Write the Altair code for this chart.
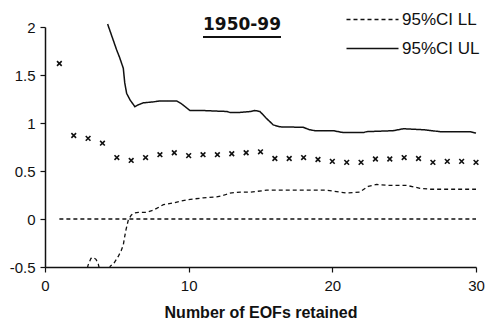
import altair as alt
import pandas as pd

# Marker series: one value per number of EOFs retained
eofs = list(range(1, 31))
stat = [1.62, 0.87, 0.84, 0.79, 0.64, 0.61, 0.64, 0.67, 0.69, 0.66,
        0.67, 0.67, 0.68, 0.69, 0.70, 0.63, 0.63, 0.64, 0.62, 0.60,
        0.59, 0.59, 0.625, 0.625, 0.64, 0.63, 0.59, 0.60, 0.60, 0.59]

# Lower confidence limit (dips below the axis floor around 3-4.5)
ll_x = [2.85, 3.0, 3.2, 3.36, 3.55, 3.71, 3.85, 4.2, 4.45, 4.55, 4.8, 5.1,
        5.3, 5.45, 5.55, 5.64, 5.8, 6.0, 6.15, 6.5, 7.08, 7.5, 7.77, 8.24,
        9.0, 9.86, 11.0, 11.95, 12.5, 12.87, 13.6, 14.3, 15.43, 17.0, 19.6,
        20.53, 21.0, 21.9, 22.5, 23.08, 24.0, 25.17, 26.1, 26.8, 28.0, 30.0]
ll_y = [-0.58, -0.48, -0.41, -0.40, -0.42, -0.47, -0.56, -0.62, -0.53, -0.49,
        -0.46, -0.39, -0.33, -0.27, -0.18, -0.11, -0.01, 0.04, 0.06, 0.07,
        0.07, 0.09, 0.11, 0.15, 0.17, 0.20, 0.22, 0.23, 0.25, 0.27, 0.28,
        0.28, 0.30, 0.30, 0.30, 0.28, 0.27, 0.28, 0.34, 0.36, 0.35, 0.35,
        0.32, 0.31, 0.31, 0.31]

# Upper confidence limit
ul_x = [4.36, 4.99, 5.2, 5.45, 5.55, 5.68, 5.92, 6.26, 6.5, 6.84, 7.54, 8.0,
        9.16, 9.5, 10.09, 11.0, 12.64, 12.87, 13.57, 14.3, 14.61, 14.96,
        15.4, 15.89, 16.35, 17.98, 18.4, 18.79, 20.06, 20.76, 22.15, 22.39,
        24.24, 24.94, 26.33, 27.49, 29.58, 30.0]
ul_y = [2.03, 1.76, 1.68, 1.57, 1.42, 1.31, 1.24, 1.17, 1.19, 1.21, 1.22, 1.23,
        1.23, 1.20, 1.13, 1.13, 1.12, 1.11, 1.11, 1.12, 1.13, 1.12,
        1.05, 0.98, 0.96, 0.955, 0.93, 0.92, 0.92, 0.90, 0.90, 0.91,
        0.92, 0.94, 0.93, 0.91, 0.91, 0.895]

# Zero reference line
zero_x = [1, 30]
zero_y = [0, 0]

series_names = ["95%CI LL", "95%CI UL"]
period_label = "1950-99"
x_ticks = [0, 10, 20, 30]
y_ticks = [-0.5, 0, 0.5, 1, 1.5, 2]

ink = "#111111"
font = "Liberation Sans"

marks_df = pd.DataFrame({"n": eofs, "v": stat})
ll_df = pd.DataFrame({"n": ll_x, "v": ll_y, "series": series_names[0]})
ul_df = pd.DataFrame({"n": ul_x, "v": ul_y, "series": series_names[1]})
zero_df = pd.DataFrame({"n": zero_x, "v": zero_y})

x_scale = alt.Scale(domain=[0, 30], nice=False, zero=False)
y_scale = alt.Scale(domain=[-0.5, 2], nice=False, zero=False)
dash_scale = alt.Scale(domain=series_names, range=[[4, 3], [1, 0]])

x_axis = alt.Axis(values=x_ticks, title="Number of EOFs retained", grid=False,
                  domainColor=ink, domainWidth=1.5, tickColor=ink, tickSize=5,
                  tickWidth=1.2, labelFont=font, labelFontSize=15, labelColor=ink,
                  labelPadding=6, labelFlush=False, titleFont=font,
                  titleFontSize=16, titleFontWeight="bold", titleColor=ink,
                  titlePadding=11)
y_axis = alt.Axis(values=y_ticks, title=None, grid=False,
                  domainColor=ink, domainWidth=1.5, tickColor=ink, tickSize=5,
                  tickWidth=1.2, labelFont=font, labelFontSize=15, labelColor=ink,
                  labelPadding=5,
                  labelExpr="datum.value < 0 ? '-' + format(-datum.value, '~g') : format(datum.value, '~g')")

# Long, flat line sample for the legend keys
legend = alt.Legend(title=None, orient="none", legendX=319, legendY=-16,
                    symbolType="M-4,0H4", symbolSize=169, symbolStrokeWidth=1.4,
                    symbolStrokeColor=ink, labelFont=font, labelFontSize=17,
                    labelColor=ink, labelOffset=21, rowPadding=11)

x_enc = alt.X("n:Q", scale=x_scale, axis=x_axis)
y_enc = alt.Y("v:Q", scale=y_scale, axis=y_axis)

zero_line = alt.Chart(zero_df).mark_line(color=ink, strokeWidth=1.3, strokeDash=[4, 3]).encode(
    x=x_enc, y=y_enc)

ll_line = alt.Chart(ll_df).mark_line(color=ink, strokeWidth=1.3, clip=True).encode(
    x=x_enc, y=y_enc,
    strokeDash=alt.StrokeDash("series:N", scale=dash_scale, legend=legend))

ul_line = alt.Chart(ul_df).mark_line(color=ink, strokeWidth=1.5).encode(
    x=x_enc, y=y_enc,
    strokeDash=alt.StrokeDash("series:N", scale=dash_scale, legend=legend))

points = alt.Chart(marks_df).mark_point(
    shape="M-1,-1L1,1M1,-1L-1,1", filled=False, size=22, strokeWidth=1.6,
    color=ink, opacity=1).encode(x=x_enc, y=y_enc)

title_text = alt.Chart(pd.DataFrame({"label": [period_label]})).mark_text(
    font="DejaVu Sans", fontSize=17, fontWeight="bold", align="center",
    baseline="middle", color=ink).encode(
    text="label:N", x=alt.value(197), y=alt.value(-2))

underline = alt.Chart(pd.DataFrame({"label": [period_label]})).mark_rule(
    color=ink, strokeWidth=2).encode(
    x=alt.value(158), x2=alt.value(236), y=alt.value(10))

chart = alt.layer(zero_line, ll_line, ul_line, points, title_text, underline).properties(
    width=431, height=240,
    autosize=alt.AutoSizeParams(type="none"),
    padding={"left": 45, "top": 27, "right": 9, "bottom": 55},
    background="white",
).configure_view(stroke=None)

chart.save("out.html", embed_options={"renderer": "svg", "actions": False})
